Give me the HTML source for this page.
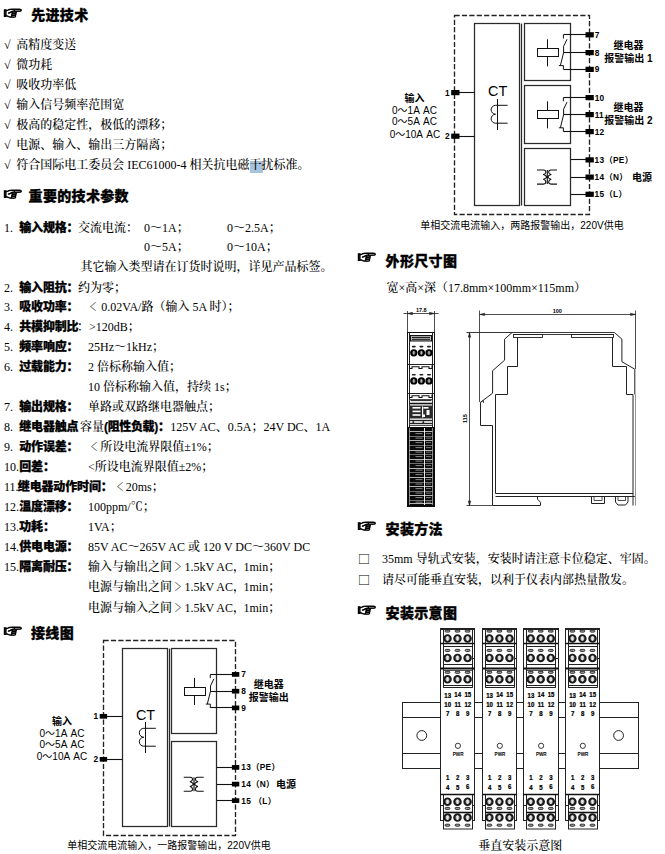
<!DOCTYPE html>
<html lang="zh"><head><meta charset="utf-8"><title>page</title>
<style>
html,body{margin:0;padding:0;background:#fff}
body{width:665px;height:854px;position:relative;overflow:hidden;color:#000}
.t{position:absolute;white-space:nowrap;height:20px;line-height:20px;font-size:12px;font-weight:500;font-family:"Liberation Serif","Noto Serif CJK SC",serif}
.hd{font-family:"Liberation Sans","Noto Sans CJK SC",sans-serif;font-weight:900;font-size:14px;letter-spacing:.33px;-webkit-text-stroke:0.3px #000}
.hand{font-family:"WenQuanYi Zen Hei","Liberation Sans","Noto Sans CJK SC",sans-serif;font-size:21.5px;-webkit-text-stroke:0.8px #000}
.lb,.lbi{font-family:"Liberation Sans","Noto Sans CJK SC",sans-serif;font-weight:900;letter-spacing:-.15px;-webkit-text-stroke:0.25px #000}
.hl{background:#a9c4e6}
.lt{display:inline-block;transform:scaleX(0.62);font-weight:700;margin-left:1.3px;margin-right:2px}
.sq{font-family:"Noto Sans CJK SC",sans-serif;font-weight:500;font-size:12px}
svg{position:absolute;left:0;top:0}
</style></head><body>
<div style="position:absolute;left:250px;top:160.6px;width:12.6px;height:12px;background:#a6c3df"></div>
<div class="t hand" style="left:2.2px;top:3.7px">☞</div>
<div class="t hd" style="left:31.2px;top:5.300000000000001px">先进技术</div>
<div class="t b" style="left:4px;top:35.4px;">√</div>
<div class="t b" style="left:16.2px;top:35.4px;">高精度变送</div>
<div class="t b" style="left:4px;top:55.33px;">√</div>
<div class="t b" style="left:16.2px;top:55.33px;">微功耗</div>
<div class="t b" style="left:4px;top:75.26px;">√</div>
<div class="t b" style="left:16.2px;top:75.26px;">吸收功率低</div>
<div class="t b" style="left:4px;top:95.19px;">√</div>
<div class="t b" style="left:16.2px;top:95.19px;">输入信号频率范围宽</div>
<div class="t b" style="left:4px;top:115.12px;">√</div>
<div class="t b" style="left:16.2px;top:115.12px;">极高的稳定性，极低的漂移；</div>
<div class="t b" style="left:4px;top:135.05px;">√</div>
<div class="t b" style="left:16.2px;top:135.05px;">电源、输入、输出三方隔离；</div>
<div class="t b" style="left:4px;top:154.98px;">√</div>
<div class="t b" style="left:16.2px;top:154.98px;">符合国际电工委员会 IEC61000-4 相关抗电磁干扰标准。</div>
<div class="t hand" style="left:2.2px;top:185px">☞</div>
<div class="t hd" style="left:28.6px;top:186px">重要的技术参数</div>
<div class="t b" style="left:4px;top:217.7px;">1.</div>
<div class="t lb" style="left:19.2px;top:217.7px;">输入规格：</div>
<div class="t b" style="left:78px;top:217.7px;">交流电流：</div>
<div class="t b" style="left:4px;top:277.82px;">2.</div>
<div class="t lb" style="left:19.2px;top:277.82px;">输入阻抗：</div>
<div class="t b" style="left:78px;top:277.82px;">约为零；</div>
<div class="t b" style="left:4px;top:296.86px;">3.</div>
<div class="t lb" style="left:19.2px;top:296.86px;">吸收功率：</div>
<div class="t b" style="left:86px;top:296.86px;"><span class="lt">＜</span>0.02VA/路（输入 5A 时）；</div>
<div class="t b" style="left:4px;top:316.9px;">4.</div>
<div class="t lb" style="left:19.2px;top:316.9px;">共模抑制比</div>
<div class="t b" style="left:77px;top:316.9px;">：>120dB；</div>
<div class="t b" style="left:4px;top:336.94px;">5.</div>
<div class="t lb" style="left:19.2px;top:336.94px;">频率响应：</div>
<div class="t b" style="left:88px;top:336.94px;">25Hz～1kHz；</div>
<div class="t b" style="left:4px;top:356.98px;">6.</div>
<div class="t lb" style="left:19.2px;top:356.98px;">过载能力：</div>
<div class="t b" style="left:88px;top:356.98px;">2 倍标称输入值；</div>
<div class="t b" style="left:4px;top:397.06px;">7.</div>
<div class="t lb" style="left:19.2px;top:397.06px;">输出规格：</div>
<div class="t b" style="left:88px;top:397.06px;">单路或双路继电器触点；</div>
<div class="t b" style="left:4px;top:417.1px;">8.</div>
<div class="t lb" style="left:19.2px;top:417.1px;">继电器触点</div>
<div class="t b" style="left:4px;top:437.14px;">9.</div>
<div class="t lb" style="left:19.2px;top:437.14px;">动作误差：</div>
<div class="t b" style="left:86px;top:437.14px;"><span class="lt" style="margin:0 0.7px 0 1.5px">＜</span>所设电流界限值±1%；</div>
<div class="t b" style="left:4px;top:457.18px;">10.</div>
<div class="t lb" style="left:19.2px;top:457.18px;">回差：</div>
<div class="t b" style="left:88px;top:457.18px;">&lt;所设电流界限值±2%；</div>
<div class="t b" style="left:4px;top:477.22px;">11.</div>
<div class="t lb" style="left:17.8px;top:477.22px;">继电器动作时间：</div>
<div class="t b" style="left:114px;top:477.22px;"><span class="lt" style="margin:0 -0.1px 0 -0.3px">＜</span>20ms；</div>
<div class="t b" style="left:4px;top:497.26px;">12.</div>
<div class="t lb" style="left:19.2px;top:497.26px;">温度漂移：</div>
<div class="t b" style="left:88px;top:497.26px;">100ppm/℃；</div>
<div class="t b" style="left:4px;top:517.3px;">13.</div>
<div class="t lb" style="left:19.2px;top:517.3px;">功耗：</div>
<div class="t b" style="left:88px;top:517.3px;">1VA；</div>
<div class="t b" style="left:4px;top:537.34px;">14.</div>
<div class="t lb" style="left:19.2px;top:537.34px;">供电电源：</div>
<div class="t b" style="left:88px;top:537.34px;">85V AC～265V AC 或 120 V DC～360V DC</div>
<div class="t b" style="left:4px;top:557.38px;">15.</div>
<div class="t lb" style="left:19.2px;top:557.38px;">隔离耐压：</div>
<div class="t b" style="left:88px;top:557.38px;">输入与输出之间<span class="lt" style="margin:0 0.8px 0 -0.3px">＞</span>1.5kV AC<span style="margin-right:-1.5px">，</span>1min；</div>
<div class="t b" style="left:144px;top:217.7px;">0～1A；</div>
<div class="t b" style="left:227px;top:217.7px;">0～2.5A；</div>
<div class="t b" style="left:144px;top:236.7px;">0～5A；</div>
<div class="t b" style="left:227px;top:236.7px;">0～10A；</div>
<div class="t b" style="left:80.4px;top:256.7px;">其它输入类型请在订货时说明，详见产品标签。</div>
<div class="t b" style="left:88px;top:377.0px;">10 倍标称输入值，持续 1s；</div>
<div class="t b" style="left:80px;top:417.1px;">容量<span class="lbi" style="letter-spacing:-.35px;margin-right:.8px">(阻性负载)：</span>125V AC、0.5A；24V DC、1A</div>
<div class="t b" style="left:88px;top:577.4px;">电源与输出之间<span class="lt" style="margin:0 0.8px 0 -0.3px">＞</span>1.5kV AC<span style="margin-right:-1.5px">，</span>1min；</div>
<div class="t b" style="left:88px;top:597.5px;">电源与输入之间<span class="lt" style="margin:0 0.8px 0 -0.3px">＞</span>1.5kV AC<span style="margin-right:-1.5px">，</span>1min；</div>
<div class="t hand" style="left:2.2px;top:622.3px">☞</div>
<div class="t hd" style="left:31px;top:623.3px">接线图</div>
<div class="t hand" style="left:356.2px;top:247.9px">☞</div>
<div class="t hd" style="left:385.6px;top:250.5px">外形尺寸图</div>
<div class="t b" style="left:386.4px;top:278.0px;">宽×高×深（17.8mm×100mm×115mm）</div>
<div class="t hand" style="left:356.2px;top:517.4px">☞</div>
<div class="t hd" style="left:385.6px;top:519.4px">安装方法</div>
<div class="t sq" style="left:358px;top:549.0px;">□</div>
<div class="t b" style="left:382px;top:549.0px;">35mm 导轨式安装，安装时请注意卡位稳定、牢固。</div>
<div class="t sq" style="left:358px;top:569.7px;">□</div>
<div class="t b" style="left:382px;top:569.7px;">请尽可能垂直安装，以利于仪表内部热量散发。</div>
<div class="t hand" style="left:356.2px;top:601.0px">☞</div>
<div class="t hd" style="left:385.6px;top:602.8px">安装示意图</div>
<div class="t b" style="left:478.3px;top:835.9px;">垂直安装示意图</div>
<svg width="665" height="854" viewBox="0 0 665 854">
<rect x="454.5" y="15.5" width="135.0" height="199.0" stroke="#222" stroke-width="1.35" fill="none" stroke-dasharray="5.2 2.2"/>
<rect x="474.5" y="23.5" width="45.0" height="182.0" stroke="#2a2a2a" stroke-width="1.25" fill="none" />
<line x1="521.5" y1="23.6" x2="521.5" y2="205.6" stroke="#2a2a2a" stroke-width="1.25" />
<rect x="524.5" y="23.5" width="46.0" height="57.0" stroke="#2a2a2a" stroke-width="1.25" fill="none" />
<rect x="524.5" y="85.5" width="46.0" height="58.0" stroke="#2a2a2a" stroke-width="1.25" fill="none" />
<rect x="524.5" y="148.5" width="46.0" height="57.0" stroke="#2a2a2a" stroke-width="1.25" fill="none" />
<line x1="563.4" y1="34.5" x2="589.3" y2="34.5" stroke="#111" stroke-width="1.1" />
<rect x="585.5" y="32.199999999999996" width="8.3" height="5.2" fill="#000"/>
<line x1="563.4" y1="52.5" x2="589.3" y2="52.5" stroke="#111" stroke-width="1.1" />
<rect x="585.5" y="50.0" width="8.3" height="5.2" fill="#000"/>
<line x1="563.4" y1="69.5" x2="589.3" y2="69.5" stroke="#111" stroke-width="1.1" />
<rect x="585.5" y="66.80000000000001" width="8.3" height="5.2" fill="#000"/>
<path d="M563.4,34.8 V38.5 M567.0,39.3 L563.6,46.3 V52.6 L560.4,65.60000000000001 M558.9,65.60000000000001 H563.4 V69.4" stroke="#111" stroke-width="1" fill="none" />
<rect x="537.5" y="48.5" width="21.0" height="8.0" stroke="#111" stroke-width="1" fill="none" />
<line x1="547.5" y1="39.3" x2="547.5" y2="48.4" stroke="#111" stroke-width="1" />
<line x1="547.5" y1="56.7" x2="547.5" y2="66.4" stroke="#111" stroke-width="1" />
<text x="594.8" y="37.8" font-size="8.3" font-weight="bold" text-anchor="start" font-family="Liberation Sans,Noto Sans CJK SC,sans-serif" >7</text>
<text x="594.8" y="55.6" font-size="8.3" font-weight="bold" text-anchor="start" font-family="Liberation Sans,Noto Sans CJK SC,sans-serif" >8</text>
<text x="594.8" y="72.4" font-size="8.3" font-weight="bold" text-anchor="start" font-family="Liberation Sans,Noto Sans CJK SC,sans-serif" >9</text>
<line x1="563.4" y1="97.5" x2="589.3" y2="97.5" stroke="#111" stroke-width="1.1" />
<rect x="585.5" y="95.0" width="8.3" height="5.2" fill="#000"/>
<line x1="563.4" y1="114.5" x2="589.3" y2="114.5" stroke="#111" stroke-width="1.1" />
<rect x="585.5" y="112.0" width="8.3" height="5.2" fill="#000"/>
<line x1="563.4" y1="131.5" x2="589.3" y2="131.5" stroke="#111" stroke-width="1.1" />
<rect x="585.5" y="129.0" width="8.3" height="5.2" fill="#000"/>
<path d="M563.4,97.6 V101.3 M567.0,102.1 L563.6,109.1 V114.6 L560.4,127.8 M558.9,127.8 H563.4 V131.6" stroke="#111" stroke-width="1" fill="none" />
<rect x="537.5" y="110.5" width="21.0" height="8.0" stroke="#111" stroke-width="1" fill="none" />
<line x1="547.5" y1="101.3" x2="547.5" y2="110.39999999999999" stroke="#111" stroke-width="1" />
<line x1="547.5" y1="118.69999999999999" x2="547.5" y2="128.4" stroke="#111" stroke-width="1" />
<text x="594.8" y="100.6" font-size="8.3" font-weight="bold" text-anchor="start" font-family="Liberation Sans,Noto Sans CJK SC,sans-serif" >10</text>
<text x="594.8" y="117.6" font-size="8.3" font-weight="bold" text-anchor="start" font-family="Liberation Sans,Noto Sans CJK SC,sans-serif" >11</text>
<text x="594.8" y="134.6" font-size="8.3" font-weight="bold" text-anchor="start" font-family="Liberation Sans,Noto Sans CJK SC,sans-serif" >12</text>
<line x1="570.6" y1="159.5" x2="589.3" y2="159.5" stroke="#111" stroke-width="1.1" />
<rect x="585.5" y="157.3" width="8.3" height="5.2" fill="#000"/>
<text x="594.6" y="162.9" font-size="8.3" font-weight="bold" text-anchor="start" font-family="Liberation Sans,Noto Sans CJK SC,sans-serif" letter-spacing="0.3">13（PE）</text>
<line x1="570.6" y1="177.5" x2="589.3" y2="177.5" stroke="#111" stroke-width="1.1" />
<rect x="585.5" y="174.5" width="8.3" height="5.2" fill="#000"/>
<text x="594.6" y="180.1" font-size="8.3" font-weight="bold" text-anchor="start" font-family="Liberation Sans,Noto Sans CJK SC,sans-serif" letter-spacing="0.3">14（N）</text>
<line x1="570.6" y1="194.5" x2="589.3" y2="194.5" stroke="#111" stroke-width="1.1" />
<rect x="585.5" y="191.70000000000002" width="8.3" height="5.2" fill="#000"/>
<text x="594.6" y="197.3" font-size="8.3" font-weight="bold" text-anchor="start" font-family="Liberation Sans,Noto Sans CJK SC,sans-serif" letter-spacing="0.3">15（L）</text>
<text x="632" y="180.8" font-size="10" font-weight="bold" text-anchor="start" font-family="Liberation Sans,Noto Sans CJK SC,sans-serif" >电源</text>
<path transform="translate(547.3,177)" d="M-10.3,-7 H-3.8 Q-1.3,-6.8 -1.5,-4.5 Q-1.8,-3 -3.8,-2.4 Q-0.8,-1.4 -0.8,-0.1 Q-0.8,1.2 -3.8,2.2 Q-1.8,2.8 -1.5,4.8 Q-1.3,7 -3.8,7.1 H-10.3 M9.7,-7 H3.7 Q1.2,-6.8 1.4,-4.5 Q1.7,-3 3.7,-2.4 Q0.7,-1.4 0.7,-0.1 Q0.7,1.2 3.7,2.2 Q1.7,2.8 1.4,4.8 Q1.2,7 3.7,7.1 H9.7 M0,-7 V7" stroke="#111" stroke-width="1.1" fill="none" stroke-linejoin="round"/>
<line x1="455" y1="92.5" x2="474.5" y2="92.5" stroke="#111" stroke-width="1.1" />
<rect x="451.2" y="90.0" width="8.3" height="5.2" fill="#000"/>
<text x="449.7" y="95.6" font-size="8.3" font-weight="bold" text-anchor="end" font-family="Liberation Sans,Noto Sans CJK SC,sans-serif" >1</text>
<line x1="455" y1="136.5" x2="474.5" y2="136.5" stroke="#111" stroke-width="1.1" />
<rect x="451.2" y="133.6" width="8.3" height="5.2" fill="#000"/>
<text x="449.7" y="139.2" font-size="8.3" font-weight="bold" text-anchor="end" font-family="Liberation Sans,Noto Sans CJK SC,sans-serif" >2</text>
<text x="497.7" y="96" font-size="14.4" font-weight="normal" text-anchor="middle" font-family="Liberation Sans,Noto Sans CJK SC,sans-serif" >CT</text>
<line x1="497.5" y1="99" x2="497.5" y2="130" stroke="#111" stroke-width="1" />
<path d="M507.6,105.3 H495.6 a4.475000000000001,4.475000000000001 0 0 0 0,8.950000000000003 a4.475000000000001,4.475000000000001 0 0 0 0,8.950000000000003 H507.6" stroke="#111" stroke-width="1" fill="none" />
<text x="414.5" y="102" font-size="10" font-weight="bold" text-anchor="middle" font-family="Liberation Sans,Noto Sans CJK SC,sans-serif" >输入</text>
<text x="414.5" y="113.6" font-size="10" font-weight="normal" text-anchor="middle" font-family="Liberation Sans,Noto Sans CJK SC,sans-serif"  word-spacing="1.5">0～1A AC</text>
<text x="414.5" y="125.2" font-size="10" font-weight="normal" text-anchor="middle" font-family="Liberation Sans,Noto Sans CJK SC,sans-serif"  word-spacing="1.5">0～5A AC</text>
<text x="414.9" y="137.6" font-size="10" font-weight="normal" text-anchor="middle" font-family="Liberation Sans,Noto Sans CJK SC,sans-serif"  word-spacing="1.5">0～10A AC</text>
<text x="628.5" y="49.1" font-size="10" font-weight="bold" text-anchor="middle" font-family="Liberation Sans,Noto Sans CJK SC,sans-serif" >继电器</text>
<text x="628.5" y="62.4" font-size="10" font-weight="bold" text-anchor="middle" font-family="Liberation Sans,Noto Sans CJK SC,sans-serif" >报警输出 1</text>
<text x="628.5" y="111.4" font-size="10" font-weight="bold" text-anchor="middle" font-family="Liberation Sans,Noto Sans CJK SC,sans-serif" >继电器</text>
<text x="628.5" y="124.3" font-size="10" font-weight="bold" text-anchor="middle" font-family="Liberation Sans,Noto Sans CJK SC,sans-serif" >报警输出 2</text>
<text x="522" y="229.3" font-size="10" font-weight="normal" text-anchor="middle" font-family="Liberation Sans,Noto Sans CJK SC,sans-serif" >单相交流电流输入，两路报警输出，220V供电</text>
<rect x="103.5" y="640.5" width="132.0" height="195.0" stroke="#222" stroke-width="1.35" fill="none" stroke-dasharray="5.2 2.2"/>
<rect x="122.5" y="648.5" width="45.0" height="178.0" stroke="#2a2a2a" stroke-width="1.25" fill="none" />
<line x1="169.5" y1="648.6" x2="169.5" y2="826.6" stroke="#2a2a2a" stroke-width="1.25" />
<rect x="171.5" y="648.5" width="45.0" height="85.0" stroke="#2a2a2a" stroke-width="1.25" fill="none" />
<rect x="171.5" y="741.5" width="45.0" height="85.0" stroke="#2a2a2a" stroke-width="1.25" fill="none" />
<line x1="210.3" y1="674.5" x2="235.7" y2="674.5" stroke="#111" stroke-width="1.1" />
<rect x="231.89999999999998" y="672.05" width="7.4" height="4.7" fill="#000"/>
<line x1="210.3" y1="691.5" x2="235.7" y2="691.5" stroke="#111" stroke-width="1.1" />
<rect x="231.89999999999998" y="688.85" width="7.4" height="4.7" fill="#000"/>
<line x1="210.3" y1="707.5" x2="235.7" y2="707.5" stroke="#111" stroke-width="1.1" />
<rect x="231.89999999999998" y="705.55" width="7.4" height="4.7" fill="#000"/>
<path d="M210.3,674.4 V678.1 M213.9,678.9 L210.5,685.9 V691.2 L207.3,704.1 M205.8,704.1 H210.3 V707.9" stroke="#111" stroke-width="1" fill="none" />
<rect x="184.5" y="687.5" width="21.0" height="8.0" stroke="#111" stroke-width="1" fill="none" />
<line x1="194.5" y1="677.9000000000001" x2="194.5" y2="687.0" stroke="#111" stroke-width="1" />
<line x1="194.5" y1="695.3000000000001" x2="194.5" y2="705.0" stroke="#111" stroke-width="1" />
<text x="241.2" y="677.4" font-size="8.3" font-weight="bold" text-anchor="start" font-family="Liberation Sans,Noto Sans CJK SC,sans-serif" >7</text>
<text x="241.2" y="694.2" font-size="8.3" font-weight="bold" text-anchor="start" font-family="Liberation Sans,Noto Sans CJK SC,sans-serif" >8</text>
<text x="241.2" y="710.9" font-size="8.3" font-weight="bold" text-anchor="start" font-family="Liberation Sans,Noto Sans CJK SC,sans-serif" >9</text>
<line x1="216.7" y1="767.5" x2="235.7" y2="767.5" stroke="#111" stroke-width="1.1" />
<rect x="231.89999999999998" y="765.05" width="7.4" height="4.7" fill="#000"/>
<text x="241.3" y="770.4" font-size="8.3" font-weight="bold" text-anchor="start" font-family="Liberation Sans,Noto Sans CJK SC,sans-serif" letter-spacing="0.3">13（PE）</text>
<line x1="216.7" y1="784.5" x2="235.7" y2="784.5" stroke="#111" stroke-width="1.1" />
<rect x="231.89999999999998" y="781.75" width="7.4" height="4.7" fill="#000"/>
<text x="241.3" y="787.1" font-size="8.3" font-weight="bold" text-anchor="start" font-family="Liberation Sans,Noto Sans CJK SC,sans-serif" letter-spacing="0.3">14（N）</text>
<line x1="216.7" y1="800.5" x2="235.7" y2="800.5" stroke="#111" stroke-width="1.1" />
<rect x="231.89999999999998" y="798.25" width="7.4" height="4.7" fill="#000"/>
<text x="241.3" y="803.6" font-size="8.3" font-weight="bold" text-anchor="start" font-family="Liberation Sans,Noto Sans CJK SC,sans-serif" letter-spacing="0.3">15 （L）</text>
<text x="276" y="787.7" font-size="10" font-weight="bold" text-anchor="start" font-family="Liberation Sans,Noto Sans CJK SC,sans-serif" >电源</text>
<path transform="translate(194,784.2)" d="M-10.3,-7 H-3.8 Q-1.3,-6.8 -1.5,-4.5 Q-1.8,-3 -3.8,-2.4 Q-0.8,-1.4 -0.8,-0.1 Q-0.8,1.2 -3.8,2.2 Q-1.8,2.8 -1.5,4.8 Q-1.3,7 -3.8,7.1 H-10.3 M9.7,-7 H3.7 Q1.2,-6.8 1.4,-4.5 Q1.7,-3 3.7,-2.4 Q0.7,-1.4 0.7,-0.1 Q0.7,1.2 3.7,2.2 Q1.7,2.8 1.4,4.8 Q1.2,7 3.7,7.1 H9.7 M0,-7 V7" stroke="#111" stroke-width="1.1" fill="none" stroke-linejoin="round"/>
<line x1="103.5" y1="716.5" x2="122.4" y2="716.5" stroke="#111" stroke-width="1.1" />
<rect x="99.7" y="713.9499999999999" width="7.4" height="4.7" fill="#000"/>
<text x="98" y="719.3" font-size="8.3" font-weight="bold" text-anchor="end" font-family="Liberation Sans,Noto Sans CJK SC,sans-serif" >1</text>
<line x1="103.5" y1="759.5" x2="122.4" y2="759.5" stroke="#111" stroke-width="1.1" />
<rect x="99.7" y="756.9499999999999" width="7.4" height="4.7" fill="#000"/>
<text x="98" y="762.3" font-size="8.3" font-weight="bold" text-anchor="end" font-family="Liberation Sans,Noto Sans CJK SC,sans-serif" >2</text>
<text x="145.5" y="719.8" font-size="14.4" font-weight="normal" text-anchor="middle" font-family="Liberation Sans,Noto Sans CJK SC,sans-serif" >CT</text>
<line x1="145.5" y1="722" x2="145.5" y2="753" stroke="#111" stroke-width="1" />
<path d="M155.8,728.3 H143.8 a4.475000000000023,4.475000000000023 0 0 0 0,8.950000000000045 a4.475000000000023,4.475000000000023 0 0 0 0,8.950000000000045 H155.8" stroke="#111" stroke-width="1" fill="none" />
<text x="62" y="725" font-size="10" font-weight="bold" text-anchor="middle" font-family="Liberation Sans,Noto Sans CJK SC,sans-serif" >输入</text>
<text x="62" y="736.6" font-size="10" font-weight="normal" text-anchor="middle" font-family="Liberation Sans,Noto Sans CJK SC,sans-serif"  word-spacing="1.5">0～1A AC</text>
<text x="62" y="748.2" font-size="10" font-weight="normal" text-anchor="middle" font-family="Liberation Sans,Noto Sans CJK SC,sans-serif"  word-spacing="1.5">0～5A AC</text>
<text x="62" y="760" font-size="10" font-weight="normal" text-anchor="middle" font-family="Liberation Sans,Noto Sans CJK SC,sans-serif"  word-spacing="1.5">0～10A AC</text>
<text x="268.7" y="687.6" font-size="10" font-weight="bold" text-anchor="middle" font-family="Liberation Sans,Noto Sans CJK SC,sans-serif" >继电器</text>
<text x="268.7" y="701" font-size="10" font-weight="bold" text-anchor="middle" font-family="Liberation Sans,Noto Sans CJK SC,sans-serif" >报警输出</text>
<text x="169" y="848.5" font-size="10" font-weight="normal" text-anchor="middle" font-family="Liberation Sans,Noto Sans CJK SC,sans-serif" >单相交流电流输入，一路报警输出，220V供电</text>
<line x1="479.7" y1="314.5" x2="635.5" y2="314.5" stroke="#222" stroke-width="0.8" />
<line x1="479.5" y1="310.5" x2="479.5" y2="402" stroke="#222" stroke-width="0.8" />
<line x1="635.5" y1="310.5" x2="635.5" y2="369" stroke="#222" stroke-width="0.8" />
<path d="M479.7,314.4 l5,-1.2 v2.4 z M635.5,314.4 l-5,-1.2 v2.4 z" stroke="#222" stroke-width="0.5" fill="#222" />
<text x="557.3" y="313" font-size="5.5" font-weight="bold" text-anchor="middle" font-family="Liberation Sans,Noto Sans CJK SC,sans-serif" >100</text>
<line x1="469.5" y1="332.2" x2="469.5" y2="505.9" stroke="#222" stroke-width="0.8" />
<line x1="466.5" y1="332.5" x2="614.4" y2="332.5" stroke="#222" stroke-width="0.9" />
<line x1="466.5" y1="505.5" x2="492.6" y2="505.5" stroke="#222" stroke-width="0.8" />
<path d="M469.5,332.2 l-1.2,5 h2.4 z M469.5,505.9 l-1.2,-5 h2.4 z" stroke="#222" stroke-width="0.5" fill="#222" />
<text x="0" y="0" font-size="5.5" font-weight="bold" text-anchor="middle" font-family="Liberation Sans,Noto Sans CJK SC,sans-serif" transform="translate(467.3,418.6) rotate(-90)">115</text>
<path d="M512.1,332.5 L504.6,339.1 L504.6,360.2 L492.6,370.7 L492.6,393.2 L480.5,402.3 L480.5,425.5 L492.5,425.5 L492.5,505.5 L540.5,505.5 L540.5,502.3 L537.5,499.2 L537.5,496.8" stroke="#222" stroke-width="1" fill="none" />
<path d="M614.4,332.5 L621.9,339.1 L621.9,361.7 L634.8,369.2 L634.8,394.5" stroke="#222" stroke-width="1" fill="none" />
<line x1="635.5" y1="394.5" x2="635.5" y2="505.5" stroke="#777" stroke-width="0.8" />
<line x1="513.6" y1="334.5" x2="613.8" y2="334.5" stroke="#222" stroke-width="0.9" />
<rect x="513.5" y="334.5" width="29" height="3" stroke="#222" stroke-width="0.9" fill="none" />
<rect x="571.5" y="334.5" width="42" height="3" stroke="#222" stroke-width="0.9" fill="none" />
<path d="M517.5,337.5 L517.5,366.5 L507.5,366.5 L507.5,394.5 L495.5,394.5 L495.5,493.5 L633,493.5" stroke="#222" stroke-width="1" fill="none" />
<path d="M612.5,337.5 L612.5,366.5 L626.5,366.5 L626.5,394.5 L633,394.5 L633,505.5" stroke="#222" stroke-width="1" fill="none" />
<line x1="495.5" y1="496.5" x2="634.8" y2="496.5" stroke="#222" stroke-width="1" />
<path d="M480.5,402.3 L483.5,400.5 L483.5,403" stroke="#222" stroke-width="0.8" fill="none" />
<path d="M591.5,496.8 L591.5,503.5 L604.5,503.5 L604.5,496.8" stroke="#222" stroke-width="1" fill="none" />
<path d="M594,496.8 L594,500.5 L602,500.5 L602,496.8" stroke="#222" stroke-width="0.8" fill="none" />
<path d="M615.5,496.8 L615.5,502 L618,505 L625.5,505 L628,502 L628,496.8" stroke="#222" stroke-width="1" fill="none" />
<path d="M618,496.8 L618,500.5 L625.5,500.5 L625.5,496.8" stroke="#222" stroke-width="0.8" fill="none" />
<line x1="403.5" y1="313.5" x2="438.5" y2="313.5" stroke="#222" stroke-width="0.8" />
<line x1="407.5" y1="311" x2="407.5" y2="332" stroke="#222" stroke-width="0.8" />
<line x1="434.5" y1="311" x2="434.5" y2="332" stroke="#222" stroke-width="0.8" />
<path d="M407.5,313.5 l5,-1.2 v2.4 z M434.5,313.5 l-5,-1.2 v2.4 z" stroke="#222" stroke-width="0.5" fill="#222" />
<text x="421.3" y="311.6" font-size="5.5" font-weight="bold" text-anchor="middle" font-family="Liberation Sans,Noto Sans CJK SC,sans-serif" >17.8</text>
<rect x="407.5" y="332.5" width="27.0" height="174" stroke="#111" stroke-width="1" fill="none" />
<line x1="409.5" y1="332.5" x2="409.5" y2="506.5" stroke="#222" stroke-width="1" />
<line x1="432.5" y1="332.5" x2="432.5" y2="506.5" stroke="#222" stroke-width="1" />
<rect x="410.5" y="335.5" width="21" height="5.5" stroke="#111" stroke-width="1" fill="#bbb" />
<line x1="412" y1="337.5" x2="430" y2="337.5" stroke="#222" stroke-width="1.3" />
<line x1="412" y1="339.5" x2="430" y2="339.5" stroke="#333" stroke-width="1.2" />
<rect x="411.8" y="345.8" width="4" height="1.6" rx="0.8" fill="#222"/>
<circle cx="413.8" cy="352.8" r="2.7" fill="#555" stroke="#000" stroke-width="1.9"/>
<rect x="413.1" y="351.1" width="1.4" height="3.4" fill="#bbb"/>
<rect x="419.4" y="345.8" width="4" height="1.6" rx="0.8" fill="#222"/>
<circle cx="421.4" cy="352.8" r="2.7" fill="#555" stroke="#000" stroke-width="1.9"/>
<rect x="420.7" y="351.1" width="1.4" height="3.4" fill="#bbb"/>
<rect x="427" y="345.8" width="4" height="1.6" rx="0.8" fill="#222"/>
<circle cx="429" cy="352.8" r="2.7" fill="#555" stroke="#000" stroke-width="1.9"/>
<rect x="428.3" y="351.1" width="1.4" height="3.4" fill="#bbb"/>
<line x1="407.5" y1="364.5" x2="434.5" y2="364.5" stroke="#222" stroke-width="1" />
<path d="M409.5,365.5 V368.5 H412.0 V366.7 H419.0 V368.5 H422.0 V366.7 H429.0 V368.5 H432.0 V365.5" stroke="#111" stroke-width="1.1" fill="none" />
<rect x="411.8" y="373.90000000000003" width="4" height="1.6" rx="0.8" fill="#222"/>
<circle cx="413.8" cy="380.90000000000003" r="2.7" fill="#555" stroke="#000" stroke-width="1.9"/>
<rect x="413.1" y="379.20000000000005" width="1.4" height="3.4" fill="#bbb"/>
<rect x="419.4" y="373.90000000000003" width="4" height="1.6" rx="0.8" fill="#222"/>
<circle cx="421.4" cy="380.90000000000003" r="2.7" fill="#555" stroke="#000" stroke-width="1.9"/>
<rect x="420.7" y="379.20000000000005" width="1.4" height="3.4" fill="#bbb"/>
<rect x="427" y="373.90000000000003" width="4" height="1.6" rx="0.8" fill="#222"/>
<circle cx="429" cy="380.90000000000003" r="2.7" fill="#555" stroke="#000" stroke-width="1.9"/>
<rect x="428.3" y="379.20000000000005" width="1.4" height="3.4" fill="#bbb"/>
<line x1="407.5" y1="393.5" x2="434.5" y2="393.5" stroke="#222" stroke-width="1" />
<path d="M409.5,394.5 V397.5 H412.0 V395.7 H419.0 V397.5 H422.0 V395.7 H429.0 V397.5 H432.0 V394.5" stroke="#111" stroke-width="1.1" fill="none" />
<rect x="409.5" y="399.5" width="23.0" height="26" fill="#fff" stroke="#222" stroke-width="0.8"/>
<line x1="410.5" y1="400.5" x2="431.5" y2="400.5" stroke="#333" stroke-width="1.2" />
<line x1="409.5" y1="403.5" x2="432.5" y2="403.5" stroke="#111" stroke-width="1.6" />
<rect x="410.0" y="405.5" width="22.0" height="13" fill="#2a2a2a"/>
<rect x="412.5" y="407" width="8" height="1.6" fill="#fff"/>
<rect x="412.5" y="410.6" width="8" height="1.6" fill="#fff"/>
<rect x="412.5" y="414.2" width="8" height="1.6" fill="#fff"/>
<rect x="423.5" y="407" width="5" height="1.6" fill="#fff"/>
<rect x="426.5" y="410" width="3" height="5" fill="#fff"/>
<rect x="423.0" y="414.5" width="2" height="2.5" fill="#fff"/>
<rect x="422.0" y="406.5" width="1.2" height="11" fill="#fff"/>
<line x1="409.5" y1="420.5" x2="432.5" y2="420.5" stroke="#222" stroke-width="1.4" />
<line x1="409.5" y1="423.5" x2="432.5" y2="423.5" stroke="#222" stroke-width="1.4" />
<rect x="412.5" y="421.3" width="1.6" height="1.6" fill="#111"/>
<rect x="422.5" y="421.3" width="1.6" height="1.6" fill="#111"/>
<rect x="407.5" y="427" width="27.0" height="79.5" fill="#0a0a0a"/>
<line x1="409.5" y1="431.5" x2="432.5" y2="431.5" stroke="#fff" stroke-width="0.7" />
<line x1="409.5" y1="436.5" x2="432.5" y2="436.5" stroke="#999" stroke-width="0.7" />
<line x1="409.5" y1="440.5" x2="432.5" y2="440.5" stroke="#fff" stroke-width="0.7" />
<line x1="409.5" y1="445.5" x2="432.5" y2="445.5" stroke="#999" stroke-width="0.7" />
<line x1="409.5" y1="450.5" x2="432.5" y2="450.5" stroke="#fff" stroke-width="0.7" />
<line x1="409.5" y1="454.5" x2="432.5" y2="454.5" stroke="#999" stroke-width="0.7" />
<line x1="409.5" y1="459.5" x2="432.5" y2="459.5" stroke="#fff" stroke-width="0.7" />
<line x1="409.5" y1="463.5" x2="432.5" y2="463.5" stroke="#999" stroke-width="0.7" />
<line x1="409.5" y1="468.5" x2="432.5" y2="468.5" stroke="#fff" stroke-width="0.7" />
<line x1="409.5" y1="472.5" x2="432.5" y2="472.5" stroke="#999" stroke-width="0.7" />
<line x1="409.5" y1="477.5" x2="432.5" y2="477.5" stroke="#fff" stroke-width="0.7" />
<line x1="409.5" y1="482.5" x2="432.5" y2="482.5" stroke="#999" stroke-width="0.7" />
<line x1="409.5" y1="486.5" x2="432.5" y2="486.5" stroke="#fff" stroke-width="0.7" />
<line x1="409.5" y1="491.5" x2="432.5" y2="491.5" stroke="#999" stroke-width="0.7" />
<line x1="409.5" y1="495.5" x2="432.5" y2="495.5" stroke="#fff" stroke-width="0.7" />
<line x1="409.5" y1="500.5" x2="432.5" y2="500.5" stroke="#999" stroke-width="0.7" />
<line x1="409.5" y1="503.5" x2="432.5" y2="503.5" stroke="#fff" stroke-width="0.7" />
<line x1="424.5" y1="428" x2="424.5" y2="505" stroke="#fff" stroke-width="0.9" />
<line x1="409.5" y1="428" x2="409.5" y2="505" stroke="#ddd" stroke-width="0.6" />
<line x1="432.5" y1="428" x2="432.5" y2="505" stroke="#ddd" stroke-width="0.6" />
<rect x="415.5" y="433.1" width="7" height="1" fill="#888"/>
<rect x="426.0" y="433.1" width="5" height="1" fill="#777"/>
<rect x="415.5" y="437.6" width="7" height="1" fill="#888"/>
<rect x="426.0" y="437.6" width="5" height="1" fill="#777"/>
<rect x="415.5" y="442.1" width="7" height="1" fill="#888"/>
<rect x="426.0" y="442.1" width="5" height="1" fill="#777"/>
<rect x="415.5" y="447.1" width="7" height="1" fill="#888"/>
<rect x="426.0" y="447.1" width="5" height="1" fill="#777"/>
<rect x="415.5" y="451.6" width="7" height="1" fill="#888"/>
<rect x="426.0" y="451.6" width="5" height="1" fill="#777"/>
<rect x="415.5" y="456.1" width="7" height="1" fill="#888"/>
<rect x="426.0" y="456.1" width="5" height="1" fill="#777"/>
<rect x="415.5" y="460.6" width="7" height="1" fill="#888"/>
<rect x="426.0" y="460.6" width="5" height="1" fill="#777"/>
<rect x="415.5" y="465.1" width="7" height="1" fill="#888"/>
<rect x="426.0" y="465.1" width="5" height="1" fill="#777"/>
<rect x="415.5" y="469.6" width="7" height="1" fill="#888"/>
<rect x="426.0" y="469.6" width="5" height="1" fill="#777"/>
<rect x="415.5" y="474.1" width="7" height="1" fill="#888"/>
<rect x="426.0" y="474.1" width="5" height="1" fill="#777"/>
<rect x="415.5" y="479.1" width="7" height="1" fill="#888"/>
<rect x="426.0" y="479.1" width="5" height="1" fill="#777"/>
<rect x="415.5" y="483.6" width="7" height="1" fill="#888"/>
<rect x="426.0" y="483.6" width="5" height="1" fill="#777"/>
<rect x="415.5" y="488.1" width="7" height="1" fill="#888"/>
<rect x="426.0" y="488.1" width="5" height="1" fill="#777"/>
<rect x="415.5" y="492.6" width="7" height="1" fill="#888"/>
<rect x="426.0" y="492.6" width="5" height="1" fill="#777"/>
<rect x="415.5" y="497.1" width="7" height="1" fill="#888"/>
<rect x="426.0" y="497.1" width="5" height="1" fill="#777"/>
<rect x="415.5" y="501.6" width="7" height="1" fill="#888"/>
<rect x="426.0" y="501.6" width="5" height="1" fill="#777"/>
<rect x="402.5" y="702.5" width="236.0" height="66.0" stroke="#222" stroke-width="1" fill="#fff" />
<line x1="402.8" y1="717.5" x2="638.2" y2="717.5" stroke="#222" stroke-width="1" />
<line x1="402.8" y1="753.5" x2="638.2" y2="753.5" stroke="#222" stroke-width="1" />
<circle cx="421.8" cy="735.5" r="4.9" fill="#fff" stroke="#222" stroke-width="1"/>
<circle cx="618.6" cy="735.5" r="4.9" fill="#fff" stroke="#222" stroke-width="1"/>
<rect x="440.5" y="628.5" width="34.0" height="192.0" stroke="#222" stroke-width="1" fill="#fff" />
<line x1="443.5" y1="628.2" x2="443.5" y2="687.6" stroke="#222" stroke-width="1" />
<line x1="472.5" y1="628.2" x2="472.5" y2="687.6" stroke="#222" stroke-width="1" />
<line x1="440.4" y1="629.5" x2="474.9" y2="629.5" stroke="#222" stroke-width="1.2" />
<line x1="440.4" y1="643.5" x2="474.9" y2="643.5" stroke="#111" stroke-width="1.6" />
<line x1="443.29999999999995" y1="646.5" x2="472.59999999999997" y2="646.5" stroke="#222" stroke-width="1" />
<line x1="443.29999999999995" y1="664.5" x2="472.59999999999997" y2="664.5" stroke="#222" stroke-width="1" />
<line x1="440.4" y1="668.5" x2="474.9" y2="668.5" stroke="#111" stroke-width="1.8" />
<line x1="443.29999999999995" y1="670.5" x2="472.59999999999997" y2="670.5" stroke="#222" stroke-width="0.8" />
<line x1="443.29999999999995" y1="685.5" x2="472.59999999999997" y2="685.5" stroke="#222" stroke-width="1" />
<line x1="443.29999999999995" y1="687.5" x2="472.59999999999997" y2="687.5" stroke="#222" stroke-width="1" />
<line x1="472.59999999999997" y1="658.5" x2="474.9" y2="658.5" stroke="#222" stroke-width="1" />
<rect x="445.1" y="630.1" width="4.8" height="2" rx="1" fill="#aaa" stroke="#1a1a1a" stroke-width="0.9"/>
<circle cx="447.5" cy="638.5" r="3.2" fill="#9a9a9a" stroke="#1a1a1a" stroke-width="2.1"/>
<rect x="446.4" y="636.2" width="2.2" height="4.6" rx="1" fill="#e8e8e8"/>
<rect x="445.1" y="649.4" width="4.8" height="2" rx="1" fill="#aaa" stroke="#1a1a1a" stroke-width="0.9"/>
<circle cx="447.5" cy="657.9" r="3.2" fill="#9a9a9a" stroke="#1a1a1a" stroke-width="2.1"/>
<rect x="446.4" y="655.6" width="2.2" height="4.6" rx="1" fill="#e8e8e8"/>
<rect x="445.1" y="671.3" width="4.8" height="2" rx="1" fill="#aaa" stroke="#1a1a1a" stroke-width="0.9"/>
<circle cx="447.5" cy="679.3" r="3.2" fill="#9a9a9a" stroke="#1a1a1a" stroke-width="2.1"/>
<rect x="446.4" y="677.0" width="2.2" height="4.6" rx="1" fill="#e8e8e8"/>
<rect x="455.1" y="630.1" width="4.8" height="2" rx="1" fill="#aaa" stroke="#1a1a1a" stroke-width="0.9"/>
<circle cx="457.5" cy="638.5" r="3.2" fill="#9a9a9a" stroke="#1a1a1a" stroke-width="2.1"/>
<rect x="456.4" y="636.2" width="2.2" height="4.6" rx="1" fill="#e8e8e8"/>
<rect x="455.1" y="649.4" width="4.8" height="2" rx="1" fill="#aaa" stroke="#1a1a1a" stroke-width="0.9"/>
<circle cx="457.5" cy="657.9" r="3.2" fill="#9a9a9a" stroke="#1a1a1a" stroke-width="2.1"/>
<rect x="456.4" y="655.6" width="2.2" height="4.6" rx="1" fill="#e8e8e8"/>
<rect x="455.1" y="671.3" width="4.8" height="2" rx="1" fill="#aaa" stroke="#1a1a1a" stroke-width="0.9"/>
<circle cx="457.5" cy="679.3" r="3.2" fill="#9a9a9a" stroke="#1a1a1a" stroke-width="2.1"/>
<rect x="456.4" y="677.0" width="2.2" height="4.6" rx="1" fill="#e8e8e8"/>
<rect x="465.2" y="630.1" width="4.8" height="2" rx="1" fill="#aaa" stroke="#1a1a1a" stroke-width="0.9"/>
<circle cx="467.59999999999997" cy="638.5" r="3.2" fill="#9a9a9a" stroke="#1a1a1a" stroke-width="2.1"/>
<rect x="466.49999999999994" y="636.2" width="2.2" height="4.6" rx="1" fill="#e8e8e8"/>
<rect x="465.2" y="649.4" width="4.8" height="2" rx="1" fill="#aaa" stroke="#1a1a1a" stroke-width="0.9"/>
<circle cx="467.59999999999997" cy="657.9" r="3.2" fill="#9a9a9a" stroke="#1a1a1a" stroke-width="2.1"/>
<rect x="466.49999999999994" y="655.6" width="2.2" height="4.6" rx="1" fill="#e8e8e8"/>
<rect x="465.2" y="671.3" width="4.8" height="2" rx="1" fill="#aaa" stroke="#1a1a1a" stroke-width="0.9"/>
<circle cx="467.59999999999997" cy="679.3" r="3.2" fill="#9a9a9a" stroke="#1a1a1a" stroke-width="2.1"/>
<rect x="466.49999999999994" y="677.0" width="2.2" height="4.6" rx="1" fill="#e8e8e8"/>
<rect x="440.5" y="794.5" width="34.0" height="26" fill="#fff" stroke="#222" stroke-width="1"/>
<rect x="443.5" y="794.5" width="29.0" height="34.5" fill="#fff" stroke="#222" stroke-width="1"/>
<line x1="440.4" y1="794.5" x2="474.9" y2="794.5" stroke="#111" stroke-width="1.6" />
<line x1="443.29999999999995" y1="812.5" x2="472.59999999999997" y2="812.5" stroke="#111" stroke-width="1.6" />
<line x1="440.4" y1="805.5" x2="443.29999999999995" y2="805.5" stroke="#222" stroke-width="1" />
<line x1="472.59999999999997" y1="805.5" x2="474.9" y2="805.5" stroke="#222" stroke-width="1" />
<circle cx="447.5" cy="801.7" r="3.2" fill="#9a9a9a" stroke="#1a1a1a" stroke-width="2.1"/>
<rect x="446.4" y="799.4000000000001" width="2.2" height="4.6" rx="1" fill="#e8e8e8"/>
<rect x="445.1" y="807.4" width="4.8" height="2" rx="1" fill="#aaa" stroke="#1a1a1a" stroke-width="0.9"/>
<circle cx="447.5" cy="817.6" r="3.2" fill="#9a9a9a" stroke="#1a1a1a" stroke-width="2.1"/>
<rect x="446.4" y="815.3000000000001" width="2.2" height="4.6" rx="1" fill="#e8e8e8"/>
<rect x="445.1" y="824.2" width="4.8" height="2" rx="1" fill="#aaa" stroke="#1a1a1a" stroke-width="0.9"/>
<circle cx="457.5" cy="801.7" r="3.2" fill="#9a9a9a" stroke="#1a1a1a" stroke-width="2.1"/>
<rect x="456.4" y="799.4000000000001" width="2.2" height="4.6" rx="1" fill="#e8e8e8"/>
<rect x="455.1" y="807.4" width="4.8" height="2" rx="1" fill="#aaa" stroke="#1a1a1a" stroke-width="0.9"/>
<circle cx="457.5" cy="817.6" r="3.2" fill="#9a9a9a" stroke="#1a1a1a" stroke-width="2.1"/>
<rect x="456.4" y="815.3000000000001" width="2.2" height="4.6" rx="1" fill="#e8e8e8"/>
<rect x="455.1" y="824.2" width="4.8" height="2" rx="1" fill="#aaa" stroke="#1a1a1a" stroke-width="0.9"/>
<circle cx="467.59999999999997" cy="801.7" r="3.2" fill="#9a9a9a" stroke="#1a1a1a" stroke-width="2.1"/>
<rect x="466.49999999999994" y="799.4000000000001" width="2.2" height="4.6" rx="1" fill="#e8e8e8"/>
<rect x="465.2" y="807.4" width="4.8" height="2" rx="1" fill="#aaa" stroke="#1a1a1a" stroke-width="0.9"/>
<circle cx="467.59999999999997" cy="817.6" r="3.2" fill="#9a9a9a" stroke="#1a1a1a" stroke-width="2.1"/>
<rect x="466.49999999999994" y="815.3000000000001" width="2.2" height="4.6" rx="1" fill="#e8e8e8"/>
<rect x="465.2" y="824.2" width="4.8" height="2" rx="1" fill="#aaa" stroke="#1a1a1a" stroke-width="0.9"/>
<text transform="translate(447.7,698.0) scale(0.88,1)" font-size="6.9" font-weight="bold" stroke="#000" stroke-width="0.25" text-anchor="middle" font-family="Liberation Sans,Noto Sans CJK SC,sans-serif">13</text>
<text transform="translate(457.7,697.4) scale(0.88,1)" font-size="6.9" font-weight="bold" stroke="#000" stroke-width="0.25" text-anchor="middle" font-family="Liberation Sans,Noto Sans CJK SC,sans-serif">14</text>
<text transform="translate(467.79999999999995,697.4) scale(0.88,1)" font-size="6.9" font-weight="bold" stroke="#000" stroke-width="0.25" text-anchor="middle" font-family="Liberation Sans,Noto Sans CJK SC,sans-serif">15</text>
<text transform="translate(447.7,707.2) scale(0.88,1)" font-size="6.9" font-weight="bold" stroke="#000" stroke-width="0.25" text-anchor="middle" font-family="Liberation Sans,Noto Sans CJK SC,sans-serif">10</text>
<text transform="translate(457.7,707.2) scale(0.88,1)" font-size="6.9" font-weight="bold" stroke="#000" stroke-width="0.25" text-anchor="middle" font-family="Liberation Sans,Noto Sans CJK SC,sans-serif">11</text>
<text transform="translate(467.79999999999995,707.2) scale(0.88,1)" font-size="6.9" font-weight="bold" stroke="#000" stroke-width="0.25" text-anchor="middle" font-family="Liberation Sans,Noto Sans CJK SC,sans-serif">12</text>
<text transform="translate(447.7,716.3) scale(0.88,1)" font-size="6.9" font-weight="bold" stroke="#000" stroke-width="0.25" text-anchor="middle" font-family="Liberation Sans,Noto Sans CJK SC,sans-serif">7</text>
<text transform="translate(457.7,716.3) scale(0.88,1)" font-size="6.9" font-weight="bold" stroke="#000" stroke-width="0.25" text-anchor="middle" font-family="Liberation Sans,Noto Sans CJK SC,sans-serif">8</text>
<text transform="translate(467.79999999999995,716.3) scale(0.88,1)" font-size="6.9" font-weight="bold" stroke="#000" stroke-width="0.25" text-anchor="middle" font-family="Liberation Sans,Noto Sans CJK SC,sans-serif">9</text>
<text transform="translate(447.7,780.1) scale(0.88,1)" font-size="6.9" font-weight="bold" stroke="#000" stroke-width="0.25" text-anchor="middle" font-family="Liberation Sans,Noto Sans CJK SC,sans-serif">1</text>
<text transform="translate(457.7,780.1) scale(0.88,1)" font-size="6.9" font-weight="bold" stroke="#000" stroke-width="0.25" text-anchor="middle" font-family="Liberation Sans,Noto Sans CJK SC,sans-serif">2</text>
<text transform="translate(467.79999999999995,780.1) scale(0.88,1)" font-size="6.9" font-weight="bold" stroke="#000" stroke-width="0.25" text-anchor="middle" font-family="Liberation Sans,Noto Sans CJK SC,sans-serif">3</text>
<text transform="translate(447.7,789.9) scale(0.88,1)" font-size="6.9" font-weight="bold" stroke="#000" stroke-width="0.25" text-anchor="middle" font-family="Liberation Sans,Noto Sans CJK SC,sans-serif">4</text>
<text transform="translate(457.7,789.9) scale(0.88,1)" font-size="6.9" font-weight="bold" stroke="#000" stroke-width="0.25" text-anchor="middle" font-family="Liberation Sans,Noto Sans CJK SC,sans-serif">5</text>
<text transform="translate(467.79999999999995,788.9) scale(0.88,1)" font-size="6.9" font-weight="bold" stroke="#000" stroke-width="0.25" text-anchor="middle" font-family="Liberation Sans,Noto Sans CJK SC,sans-serif">6</text>
<circle cx="457.9" cy="745.8" r="2.6" fill="#fff" stroke="#222" stroke-width="0.9"/>
<text transform="translate(458.09999999999997,756.3) scale(0.8,1)" font-size="5.8" font-weight="bold" text-anchor="middle" font-family="Liberation Sans,Noto Sans CJK SC,sans-serif">PWR</text>
<rect x="482.5" y="628.5" width="34.0" height="192.0" stroke="#222" stroke-width="1" fill="#fff" />
<line x1="485.5" y1="628.2" x2="485.5" y2="687.6" stroke="#222" stroke-width="1" />
<line x1="514.5" y1="628.2" x2="514.5" y2="687.6" stroke="#222" stroke-width="1" />
<line x1="482.3" y1="629.5" x2="516.8" y2="629.5" stroke="#222" stroke-width="1.2" />
<line x1="482.3" y1="643.5" x2="516.8" y2="643.5" stroke="#111" stroke-width="1.6" />
<line x1="485.2" y1="646.5" x2="514.5" y2="646.5" stroke="#222" stroke-width="1" />
<line x1="485.2" y1="664.5" x2="514.5" y2="664.5" stroke="#222" stroke-width="1" />
<line x1="482.3" y1="668.5" x2="516.8" y2="668.5" stroke="#111" stroke-width="1.8" />
<line x1="485.2" y1="670.5" x2="514.5" y2="670.5" stroke="#222" stroke-width="0.8" />
<line x1="485.2" y1="685.5" x2="514.5" y2="685.5" stroke="#222" stroke-width="1" />
<line x1="485.2" y1="687.5" x2="514.5" y2="687.5" stroke="#222" stroke-width="1" />
<line x1="514.5" y1="658.5" x2="516.8" y2="658.5" stroke="#222" stroke-width="1" />
<rect x="487.00000000000006" y="630.1" width="4.8" height="2" rx="1" fill="#aaa" stroke="#1a1a1a" stroke-width="0.9"/>
<circle cx="489.40000000000003" cy="638.5" r="3.2" fill="#9a9a9a" stroke="#1a1a1a" stroke-width="2.1"/>
<rect x="488.3" y="636.2" width="2.2" height="4.6" rx="1" fill="#e8e8e8"/>
<rect x="487.00000000000006" y="649.4" width="4.8" height="2" rx="1" fill="#aaa" stroke="#1a1a1a" stroke-width="0.9"/>
<circle cx="489.40000000000003" cy="657.9" r="3.2" fill="#9a9a9a" stroke="#1a1a1a" stroke-width="2.1"/>
<rect x="488.3" y="655.6" width="2.2" height="4.6" rx="1" fill="#e8e8e8"/>
<rect x="487.00000000000006" y="671.3" width="4.8" height="2" rx="1" fill="#aaa" stroke="#1a1a1a" stroke-width="0.9"/>
<circle cx="489.40000000000003" cy="679.3" r="3.2" fill="#9a9a9a" stroke="#1a1a1a" stroke-width="2.1"/>
<rect x="488.3" y="677.0" width="2.2" height="4.6" rx="1" fill="#e8e8e8"/>
<rect x="497.00000000000006" y="630.1" width="4.8" height="2" rx="1" fill="#aaa" stroke="#1a1a1a" stroke-width="0.9"/>
<circle cx="499.40000000000003" cy="638.5" r="3.2" fill="#9a9a9a" stroke="#1a1a1a" stroke-width="2.1"/>
<rect x="498.3" y="636.2" width="2.2" height="4.6" rx="1" fill="#e8e8e8"/>
<rect x="497.00000000000006" y="649.4" width="4.8" height="2" rx="1" fill="#aaa" stroke="#1a1a1a" stroke-width="0.9"/>
<circle cx="499.40000000000003" cy="657.9" r="3.2" fill="#9a9a9a" stroke="#1a1a1a" stroke-width="2.1"/>
<rect x="498.3" y="655.6" width="2.2" height="4.6" rx="1" fill="#e8e8e8"/>
<rect x="497.00000000000006" y="671.3" width="4.8" height="2" rx="1" fill="#aaa" stroke="#1a1a1a" stroke-width="0.9"/>
<circle cx="499.40000000000003" cy="679.3" r="3.2" fill="#9a9a9a" stroke="#1a1a1a" stroke-width="2.1"/>
<rect x="498.3" y="677.0" width="2.2" height="4.6" rx="1" fill="#e8e8e8"/>
<rect x="507.1" y="630.1" width="4.8" height="2" rx="1" fill="#aaa" stroke="#1a1a1a" stroke-width="0.9"/>
<circle cx="509.5" cy="638.5" r="3.2" fill="#9a9a9a" stroke="#1a1a1a" stroke-width="2.1"/>
<rect x="508.4" y="636.2" width="2.2" height="4.6" rx="1" fill="#e8e8e8"/>
<rect x="507.1" y="649.4" width="4.8" height="2" rx="1" fill="#aaa" stroke="#1a1a1a" stroke-width="0.9"/>
<circle cx="509.5" cy="657.9" r="3.2" fill="#9a9a9a" stroke="#1a1a1a" stroke-width="2.1"/>
<rect x="508.4" y="655.6" width="2.2" height="4.6" rx="1" fill="#e8e8e8"/>
<rect x="507.1" y="671.3" width="4.8" height="2" rx="1" fill="#aaa" stroke="#1a1a1a" stroke-width="0.9"/>
<circle cx="509.5" cy="679.3" r="3.2" fill="#9a9a9a" stroke="#1a1a1a" stroke-width="2.1"/>
<rect x="508.4" y="677.0" width="2.2" height="4.6" rx="1" fill="#e8e8e8"/>
<rect x="482.5" y="794.5" width="34.0" height="26" fill="#fff" stroke="#222" stroke-width="1"/>
<rect x="485.5" y="794.5" width="29.0" height="34.5" fill="#fff" stroke="#222" stroke-width="1"/>
<line x1="482.3" y1="794.5" x2="516.8" y2="794.5" stroke="#111" stroke-width="1.6" />
<line x1="485.2" y1="812.5" x2="514.5" y2="812.5" stroke="#111" stroke-width="1.6" />
<line x1="482.3" y1="805.5" x2="485.2" y2="805.5" stroke="#222" stroke-width="1" />
<line x1="514.5" y1="805.5" x2="516.8" y2="805.5" stroke="#222" stroke-width="1" />
<circle cx="489.40000000000003" cy="801.7" r="3.2" fill="#9a9a9a" stroke="#1a1a1a" stroke-width="2.1"/>
<rect x="488.3" y="799.4000000000001" width="2.2" height="4.6" rx="1" fill="#e8e8e8"/>
<rect x="487.00000000000006" y="807.4" width="4.8" height="2" rx="1" fill="#aaa" stroke="#1a1a1a" stroke-width="0.9"/>
<circle cx="489.40000000000003" cy="817.6" r="3.2" fill="#9a9a9a" stroke="#1a1a1a" stroke-width="2.1"/>
<rect x="488.3" y="815.3000000000001" width="2.2" height="4.6" rx="1" fill="#e8e8e8"/>
<rect x="487.00000000000006" y="824.2" width="4.8" height="2" rx="1" fill="#aaa" stroke="#1a1a1a" stroke-width="0.9"/>
<circle cx="499.40000000000003" cy="801.7" r="3.2" fill="#9a9a9a" stroke="#1a1a1a" stroke-width="2.1"/>
<rect x="498.3" y="799.4000000000001" width="2.2" height="4.6" rx="1" fill="#e8e8e8"/>
<rect x="497.00000000000006" y="807.4" width="4.8" height="2" rx="1" fill="#aaa" stroke="#1a1a1a" stroke-width="0.9"/>
<circle cx="499.40000000000003" cy="817.6" r="3.2" fill="#9a9a9a" stroke="#1a1a1a" stroke-width="2.1"/>
<rect x="498.3" y="815.3000000000001" width="2.2" height="4.6" rx="1" fill="#e8e8e8"/>
<rect x="497.00000000000006" y="824.2" width="4.8" height="2" rx="1" fill="#aaa" stroke="#1a1a1a" stroke-width="0.9"/>
<circle cx="509.5" cy="801.7" r="3.2" fill="#9a9a9a" stroke="#1a1a1a" stroke-width="2.1"/>
<rect x="508.4" y="799.4000000000001" width="2.2" height="4.6" rx="1" fill="#e8e8e8"/>
<rect x="507.1" y="807.4" width="4.8" height="2" rx="1" fill="#aaa" stroke="#1a1a1a" stroke-width="0.9"/>
<circle cx="509.5" cy="817.6" r="3.2" fill="#9a9a9a" stroke="#1a1a1a" stroke-width="2.1"/>
<rect x="508.4" y="815.3000000000001" width="2.2" height="4.6" rx="1" fill="#e8e8e8"/>
<rect x="507.1" y="824.2" width="4.8" height="2" rx="1" fill="#aaa" stroke="#1a1a1a" stroke-width="0.9"/>
<text transform="translate(489.6,698.0) scale(0.88,1)" font-size="6.9" font-weight="bold" stroke="#000" stroke-width="0.25" text-anchor="middle" font-family="Liberation Sans,Noto Sans CJK SC,sans-serif">13</text>
<text transform="translate(499.6,697.4) scale(0.88,1)" font-size="6.9" font-weight="bold" stroke="#000" stroke-width="0.25" text-anchor="middle" font-family="Liberation Sans,Noto Sans CJK SC,sans-serif">14</text>
<text transform="translate(509.7,697.4) scale(0.88,1)" font-size="6.9" font-weight="bold" stroke="#000" stroke-width="0.25" text-anchor="middle" font-family="Liberation Sans,Noto Sans CJK SC,sans-serif">15</text>
<text transform="translate(489.6,707.2) scale(0.88,1)" font-size="6.9" font-weight="bold" stroke="#000" stroke-width="0.25" text-anchor="middle" font-family="Liberation Sans,Noto Sans CJK SC,sans-serif">10</text>
<text transform="translate(499.6,707.2) scale(0.88,1)" font-size="6.9" font-weight="bold" stroke="#000" stroke-width="0.25" text-anchor="middle" font-family="Liberation Sans,Noto Sans CJK SC,sans-serif">11</text>
<text transform="translate(509.7,707.2) scale(0.88,1)" font-size="6.9" font-weight="bold" stroke="#000" stroke-width="0.25" text-anchor="middle" font-family="Liberation Sans,Noto Sans CJK SC,sans-serif">12</text>
<text transform="translate(489.6,716.3) scale(0.88,1)" font-size="6.9" font-weight="bold" stroke="#000" stroke-width="0.25" text-anchor="middle" font-family="Liberation Sans,Noto Sans CJK SC,sans-serif">7</text>
<text transform="translate(499.6,716.3) scale(0.88,1)" font-size="6.9" font-weight="bold" stroke="#000" stroke-width="0.25" text-anchor="middle" font-family="Liberation Sans,Noto Sans CJK SC,sans-serif">8</text>
<text transform="translate(509.7,716.3) scale(0.88,1)" font-size="6.9" font-weight="bold" stroke="#000" stroke-width="0.25" text-anchor="middle" font-family="Liberation Sans,Noto Sans CJK SC,sans-serif">9</text>
<text transform="translate(489.6,780.1) scale(0.88,1)" font-size="6.9" font-weight="bold" stroke="#000" stroke-width="0.25" text-anchor="middle" font-family="Liberation Sans,Noto Sans CJK SC,sans-serif">1</text>
<text transform="translate(499.6,780.1) scale(0.88,1)" font-size="6.9" font-weight="bold" stroke="#000" stroke-width="0.25" text-anchor="middle" font-family="Liberation Sans,Noto Sans CJK SC,sans-serif">2</text>
<text transform="translate(509.7,780.1) scale(0.88,1)" font-size="6.9" font-weight="bold" stroke="#000" stroke-width="0.25" text-anchor="middle" font-family="Liberation Sans,Noto Sans CJK SC,sans-serif">3</text>
<text transform="translate(489.6,789.9) scale(0.88,1)" font-size="6.9" font-weight="bold" stroke="#000" stroke-width="0.25" text-anchor="middle" font-family="Liberation Sans,Noto Sans CJK SC,sans-serif">4</text>
<text transform="translate(499.6,789.9) scale(0.88,1)" font-size="6.9" font-weight="bold" stroke="#000" stroke-width="0.25" text-anchor="middle" font-family="Liberation Sans,Noto Sans CJK SC,sans-serif">5</text>
<text transform="translate(509.7,788.9) scale(0.88,1)" font-size="6.9" font-weight="bold" stroke="#000" stroke-width="0.25" text-anchor="middle" font-family="Liberation Sans,Noto Sans CJK SC,sans-serif">6</text>
<circle cx="499.8" cy="745.8" r="2.6" fill="#fff" stroke="#222" stroke-width="0.9"/>
<text transform="translate(500.0,756.3) scale(0.8,1)" font-size="5.8" font-weight="bold" text-anchor="middle" font-family="Liberation Sans,Noto Sans CJK SC,sans-serif">PWR</text>
<rect x="523.5" y="628.5" width="35.0" height="192.0" stroke="#222" stroke-width="1" fill="#fff" />
<line x1="526.5" y1="628.2" x2="526.5" y2="687.6" stroke="#222" stroke-width="1" />
<line x1="555.5" y1="628.2" x2="555.5" y2="687.6" stroke="#222" stroke-width="1" />
<line x1="523.6" y1="629.5" x2="558.1" y2="629.5" stroke="#222" stroke-width="1.2" />
<line x1="523.6" y1="643.5" x2="558.1" y2="643.5" stroke="#111" stroke-width="1.6" />
<line x1="526.5" y1="646.5" x2="555.8000000000001" y2="646.5" stroke="#222" stroke-width="1" />
<line x1="526.5" y1="664.5" x2="555.8000000000001" y2="664.5" stroke="#222" stroke-width="1" />
<line x1="523.6" y1="668.5" x2="558.1" y2="668.5" stroke="#111" stroke-width="1.8" />
<line x1="526.5" y1="670.5" x2="555.8000000000001" y2="670.5" stroke="#222" stroke-width="0.8" />
<line x1="526.5" y1="685.5" x2="555.8000000000001" y2="685.5" stroke="#222" stroke-width="1" />
<line x1="526.5" y1="687.5" x2="555.8000000000001" y2="687.5" stroke="#222" stroke-width="1" />
<line x1="555.8000000000001" y1="658.5" x2="558.1" y2="658.5" stroke="#222" stroke-width="1" />
<rect x="528.3000000000001" y="630.1" width="4.8" height="2" rx="1" fill="#aaa" stroke="#1a1a1a" stroke-width="0.9"/>
<circle cx="530.7" cy="638.5" r="3.2" fill="#9a9a9a" stroke="#1a1a1a" stroke-width="2.1"/>
<rect x="529.6" y="636.2" width="2.2" height="4.6" rx="1" fill="#e8e8e8"/>
<rect x="528.3000000000001" y="649.4" width="4.8" height="2" rx="1" fill="#aaa" stroke="#1a1a1a" stroke-width="0.9"/>
<circle cx="530.7" cy="657.9" r="3.2" fill="#9a9a9a" stroke="#1a1a1a" stroke-width="2.1"/>
<rect x="529.6" y="655.6" width="2.2" height="4.6" rx="1" fill="#e8e8e8"/>
<rect x="528.3000000000001" y="671.3" width="4.8" height="2" rx="1" fill="#aaa" stroke="#1a1a1a" stroke-width="0.9"/>
<circle cx="530.7" cy="679.3" r="3.2" fill="#9a9a9a" stroke="#1a1a1a" stroke-width="2.1"/>
<rect x="529.6" y="677.0" width="2.2" height="4.6" rx="1" fill="#e8e8e8"/>
<rect x="538.3000000000001" y="630.1" width="4.8" height="2" rx="1" fill="#aaa" stroke="#1a1a1a" stroke-width="0.9"/>
<circle cx="540.7" cy="638.5" r="3.2" fill="#9a9a9a" stroke="#1a1a1a" stroke-width="2.1"/>
<rect x="539.6" y="636.2" width="2.2" height="4.6" rx="1" fill="#e8e8e8"/>
<rect x="538.3000000000001" y="649.4" width="4.8" height="2" rx="1" fill="#aaa" stroke="#1a1a1a" stroke-width="0.9"/>
<circle cx="540.7" cy="657.9" r="3.2" fill="#9a9a9a" stroke="#1a1a1a" stroke-width="2.1"/>
<rect x="539.6" y="655.6" width="2.2" height="4.6" rx="1" fill="#e8e8e8"/>
<rect x="538.3000000000001" y="671.3" width="4.8" height="2" rx="1" fill="#aaa" stroke="#1a1a1a" stroke-width="0.9"/>
<circle cx="540.7" cy="679.3" r="3.2" fill="#9a9a9a" stroke="#1a1a1a" stroke-width="2.1"/>
<rect x="539.6" y="677.0" width="2.2" height="4.6" rx="1" fill="#e8e8e8"/>
<rect x="548.4000000000001" y="630.1" width="4.8" height="2" rx="1" fill="#aaa" stroke="#1a1a1a" stroke-width="0.9"/>
<circle cx="550.8000000000001" cy="638.5" r="3.2" fill="#9a9a9a" stroke="#1a1a1a" stroke-width="2.1"/>
<rect x="549.7" y="636.2" width="2.2" height="4.6" rx="1" fill="#e8e8e8"/>
<rect x="548.4000000000001" y="649.4" width="4.8" height="2" rx="1" fill="#aaa" stroke="#1a1a1a" stroke-width="0.9"/>
<circle cx="550.8000000000001" cy="657.9" r="3.2" fill="#9a9a9a" stroke="#1a1a1a" stroke-width="2.1"/>
<rect x="549.7" y="655.6" width="2.2" height="4.6" rx="1" fill="#e8e8e8"/>
<rect x="548.4000000000001" y="671.3" width="4.8" height="2" rx="1" fill="#aaa" stroke="#1a1a1a" stroke-width="0.9"/>
<circle cx="550.8000000000001" cy="679.3" r="3.2" fill="#9a9a9a" stroke="#1a1a1a" stroke-width="2.1"/>
<rect x="549.7" y="677.0" width="2.2" height="4.6" rx="1" fill="#e8e8e8"/>
<rect x="523.5" y="794.5" width="35.0" height="26" fill="#fff" stroke="#222" stroke-width="1"/>
<rect x="526.5" y="794.5" width="29.0" height="34.5" fill="#fff" stroke="#222" stroke-width="1"/>
<line x1="523.6" y1="794.5" x2="558.1" y2="794.5" stroke="#111" stroke-width="1.6" />
<line x1="526.5" y1="812.5" x2="555.8000000000001" y2="812.5" stroke="#111" stroke-width="1.6" />
<line x1="523.6" y1="805.5" x2="526.5" y2="805.5" stroke="#222" stroke-width="1" />
<line x1="555.8000000000001" y1="805.5" x2="558.1" y2="805.5" stroke="#222" stroke-width="1" />
<circle cx="530.7" cy="801.7" r="3.2" fill="#9a9a9a" stroke="#1a1a1a" stroke-width="2.1"/>
<rect x="529.6" y="799.4000000000001" width="2.2" height="4.6" rx="1" fill="#e8e8e8"/>
<rect x="528.3000000000001" y="807.4" width="4.8" height="2" rx="1" fill="#aaa" stroke="#1a1a1a" stroke-width="0.9"/>
<circle cx="530.7" cy="817.6" r="3.2" fill="#9a9a9a" stroke="#1a1a1a" stroke-width="2.1"/>
<rect x="529.6" y="815.3000000000001" width="2.2" height="4.6" rx="1" fill="#e8e8e8"/>
<rect x="528.3000000000001" y="824.2" width="4.8" height="2" rx="1" fill="#aaa" stroke="#1a1a1a" stroke-width="0.9"/>
<circle cx="540.7" cy="801.7" r="3.2" fill="#9a9a9a" stroke="#1a1a1a" stroke-width="2.1"/>
<rect x="539.6" y="799.4000000000001" width="2.2" height="4.6" rx="1" fill="#e8e8e8"/>
<rect x="538.3000000000001" y="807.4" width="4.8" height="2" rx="1" fill="#aaa" stroke="#1a1a1a" stroke-width="0.9"/>
<circle cx="540.7" cy="817.6" r="3.2" fill="#9a9a9a" stroke="#1a1a1a" stroke-width="2.1"/>
<rect x="539.6" y="815.3000000000001" width="2.2" height="4.6" rx="1" fill="#e8e8e8"/>
<rect x="538.3000000000001" y="824.2" width="4.8" height="2" rx="1" fill="#aaa" stroke="#1a1a1a" stroke-width="0.9"/>
<circle cx="550.8000000000001" cy="801.7" r="3.2" fill="#9a9a9a" stroke="#1a1a1a" stroke-width="2.1"/>
<rect x="549.7" y="799.4000000000001" width="2.2" height="4.6" rx="1" fill="#e8e8e8"/>
<rect x="548.4000000000001" y="807.4" width="4.8" height="2" rx="1" fill="#aaa" stroke="#1a1a1a" stroke-width="0.9"/>
<circle cx="550.8000000000001" cy="817.6" r="3.2" fill="#9a9a9a" stroke="#1a1a1a" stroke-width="2.1"/>
<rect x="549.7" y="815.3000000000001" width="2.2" height="4.6" rx="1" fill="#e8e8e8"/>
<rect x="548.4000000000001" y="824.2" width="4.8" height="2" rx="1" fill="#aaa" stroke="#1a1a1a" stroke-width="0.9"/>
<text transform="translate(530.9000000000001,698.0) scale(0.88,1)" font-size="6.9" font-weight="bold" stroke="#000" stroke-width="0.25" text-anchor="middle" font-family="Liberation Sans,Noto Sans CJK SC,sans-serif">13</text>
<text transform="translate(540.9000000000001,697.4) scale(0.88,1)" font-size="6.9" font-weight="bold" stroke="#000" stroke-width="0.25" text-anchor="middle" font-family="Liberation Sans,Noto Sans CJK SC,sans-serif">14</text>
<text transform="translate(551.0000000000001,697.4) scale(0.88,1)" font-size="6.9" font-weight="bold" stroke="#000" stroke-width="0.25" text-anchor="middle" font-family="Liberation Sans,Noto Sans CJK SC,sans-serif">15</text>
<text transform="translate(530.9000000000001,707.2) scale(0.88,1)" font-size="6.9" font-weight="bold" stroke="#000" stroke-width="0.25" text-anchor="middle" font-family="Liberation Sans,Noto Sans CJK SC,sans-serif">10</text>
<text transform="translate(540.9000000000001,707.2) scale(0.88,1)" font-size="6.9" font-weight="bold" stroke="#000" stroke-width="0.25" text-anchor="middle" font-family="Liberation Sans,Noto Sans CJK SC,sans-serif">11</text>
<text transform="translate(551.0000000000001,707.2) scale(0.88,1)" font-size="6.9" font-weight="bold" stroke="#000" stroke-width="0.25" text-anchor="middle" font-family="Liberation Sans,Noto Sans CJK SC,sans-serif">12</text>
<text transform="translate(530.9000000000001,716.3) scale(0.88,1)" font-size="6.9" font-weight="bold" stroke="#000" stroke-width="0.25" text-anchor="middle" font-family="Liberation Sans,Noto Sans CJK SC,sans-serif">7</text>
<text transform="translate(540.9000000000001,716.3) scale(0.88,1)" font-size="6.9" font-weight="bold" stroke="#000" stroke-width="0.25" text-anchor="middle" font-family="Liberation Sans,Noto Sans CJK SC,sans-serif">8</text>
<text transform="translate(551.0000000000001,716.3) scale(0.88,1)" font-size="6.9" font-weight="bold" stroke="#000" stroke-width="0.25" text-anchor="middle" font-family="Liberation Sans,Noto Sans CJK SC,sans-serif">9</text>
<text transform="translate(530.9000000000001,780.1) scale(0.88,1)" font-size="6.9" font-weight="bold" stroke="#000" stroke-width="0.25" text-anchor="middle" font-family="Liberation Sans,Noto Sans CJK SC,sans-serif">1</text>
<text transform="translate(540.9000000000001,780.1) scale(0.88,1)" font-size="6.9" font-weight="bold" stroke="#000" stroke-width="0.25" text-anchor="middle" font-family="Liberation Sans,Noto Sans CJK SC,sans-serif">2</text>
<text transform="translate(551.0000000000001,780.1) scale(0.88,1)" font-size="6.9" font-weight="bold" stroke="#000" stroke-width="0.25" text-anchor="middle" font-family="Liberation Sans,Noto Sans CJK SC,sans-serif">3</text>
<text transform="translate(530.9000000000001,789.9) scale(0.88,1)" font-size="6.9" font-weight="bold" stroke="#000" stroke-width="0.25" text-anchor="middle" font-family="Liberation Sans,Noto Sans CJK SC,sans-serif">4</text>
<text transform="translate(540.9000000000001,789.9) scale(0.88,1)" font-size="6.9" font-weight="bold" stroke="#000" stroke-width="0.25" text-anchor="middle" font-family="Liberation Sans,Noto Sans CJK SC,sans-serif">5</text>
<text transform="translate(551.0000000000001,788.9) scale(0.88,1)" font-size="6.9" font-weight="bold" stroke="#000" stroke-width="0.25" text-anchor="middle" font-family="Liberation Sans,Noto Sans CJK SC,sans-serif">6</text>
<circle cx="541.1" cy="745.8" r="2.6" fill="#fff" stroke="#222" stroke-width="0.9"/>
<text transform="translate(541.3000000000001,756.3) scale(0.8,1)" font-size="5.8" font-weight="bold" text-anchor="middle" font-family="Liberation Sans,Noto Sans CJK SC,sans-serif">PWR</text>
<rect x="565.5" y="628.5" width="34.0" height="192.0" stroke="#222" stroke-width="1" fill="#fff" />
<line x1="568.5" y1="628.2" x2="568.5" y2="687.6" stroke="#222" stroke-width="1" />
<line x1="597.5" y1="628.2" x2="597.5" y2="687.6" stroke="#222" stroke-width="1" />
<line x1="565.3" y1="629.5" x2="599.8" y2="629.5" stroke="#222" stroke-width="1.2" />
<line x1="565.3" y1="643.5" x2="599.8" y2="643.5" stroke="#111" stroke-width="1.6" />
<line x1="568.1999999999999" y1="646.5" x2="597.5" y2="646.5" stroke="#222" stroke-width="1" />
<line x1="568.1999999999999" y1="664.5" x2="597.5" y2="664.5" stroke="#222" stroke-width="1" />
<line x1="565.3" y1="668.5" x2="599.8" y2="668.5" stroke="#111" stroke-width="1.8" />
<line x1="568.1999999999999" y1="670.5" x2="597.5" y2="670.5" stroke="#222" stroke-width="0.8" />
<line x1="568.1999999999999" y1="685.5" x2="597.5" y2="685.5" stroke="#222" stroke-width="1" />
<line x1="568.1999999999999" y1="687.5" x2="597.5" y2="687.5" stroke="#222" stroke-width="1" />
<line x1="597.5" y1="658.5" x2="599.8" y2="658.5" stroke="#222" stroke-width="1" />
<rect x="570.0" y="630.1" width="4.8" height="2" rx="1" fill="#aaa" stroke="#1a1a1a" stroke-width="0.9"/>
<circle cx="572.4" cy="638.5" r="3.2" fill="#9a9a9a" stroke="#1a1a1a" stroke-width="2.1"/>
<rect x="571.3" y="636.2" width="2.2" height="4.6" rx="1" fill="#e8e8e8"/>
<rect x="570.0" y="649.4" width="4.8" height="2" rx="1" fill="#aaa" stroke="#1a1a1a" stroke-width="0.9"/>
<circle cx="572.4" cy="657.9" r="3.2" fill="#9a9a9a" stroke="#1a1a1a" stroke-width="2.1"/>
<rect x="571.3" y="655.6" width="2.2" height="4.6" rx="1" fill="#e8e8e8"/>
<rect x="570.0" y="671.3" width="4.8" height="2" rx="1" fill="#aaa" stroke="#1a1a1a" stroke-width="0.9"/>
<circle cx="572.4" cy="679.3" r="3.2" fill="#9a9a9a" stroke="#1a1a1a" stroke-width="2.1"/>
<rect x="571.3" y="677.0" width="2.2" height="4.6" rx="1" fill="#e8e8e8"/>
<rect x="580.0" y="630.1" width="4.8" height="2" rx="1" fill="#aaa" stroke="#1a1a1a" stroke-width="0.9"/>
<circle cx="582.4" cy="638.5" r="3.2" fill="#9a9a9a" stroke="#1a1a1a" stroke-width="2.1"/>
<rect x="581.3" y="636.2" width="2.2" height="4.6" rx="1" fill="#e8e8e8"/>
<rect x="580.0" y="649.4" width="4.8" height="2" rx="1" fill="#aaa" stroke="#1a1a1a" stroke-width="0.9"/>
<circle cx="582.4" cy="657.9" r="3.2" fill="#9a9a9a" stroke="#1a1a1a" stroke-width="2.1"/>
<rect x="581.3" y="655.6" width="2.2" height="4.6" rx="1" fill="#e8e8e8"/>
<rect x="580.0" y="671.3" width="4.8" height="2" rx="1" fill="#aaa" stroke="#1a1a1a" stroke-width="0.9"/>
<circle cx="582.4" cy="679.3" r="3.2" fill="#9a9a9a" stroke="#1a1a1a" stroke-width="2.1"/>
<rect x="581.3" y="677.0" width="2.2" height="4.6" rx="1" fill="#e8e8e8"/>
<rect x="590.1" y="630.1" width="4.8" height="2" rx="1" fill="#aaa" stroke="#1a1a1a" stroke-width="0.9"/>
<circle cx="592.5" cy="638.5" r="3.2" fill="#9a9a9a" stroke="#1a1a1a" stroke-width="2.1"/>
<rect x="591.4" y="636.2" width="2.2" height="4.6" rx="1" fill="#e8e8e8"/>
<rect x="590.1" y="649.4" width="4.8" height="2" rx="1" fill="#aaa" stroke="#1a1a1a" stroke-width="0.9"/>
<circle cx="592.5" cy="657.9" r="3.2" fill="#9a9a9a" stroke="#1a1a1a" stroke-width="2.1"/>
<rect x="591.4" y="655.6" width="2.2" height="4.6" rx="1" fill="#e8e8e8"/>
<rect x="590.1" y="671.3" width="4.8" height="2" rx="1" fill="#aaa" stroke="#1a1a1a" stroke-width="0.9"/>
<circle cx="592.5" cy="679.3" r="3.2" fill="#9a9a9a" stroke="#1a1a1a" stroke-width="2.1"/>
<rect x="591.4" y="677.0" width="2.2" height="4.6" rx="1" fill="#e8e8e8"/>
<rect x="565.5" y="794.5" width="34.0" height="26" fill="#fff" stroke="#222" stroke-width="1"/>
<rect x="568.5" y="794.5" width="29.0" height="34.5" fill="#fff" stroke="#222" stroke-width="1"/>
<line x1="565.3" y1="794.5" x2="599.8" y2="794.5" stroke="#111" stroke-width="1.6" />
<line x1="568.1999999999999" y1="812.5" x2="597.5" y2="812.5" stroke="#111" stroke-width="1.6" />
<line x1="565.3" y1="805.5" x2="568.1999999999999" y2="805.5" stroke="#222" stroke-width="1" />
<line x1="597.5" y1="805.5" x2="599.8" y2="805.5" stroke="#222" stroke-width="1" />
<circle cx="572.4" cy="801.7" r="3.2" fill="#9a9a9a" stroke="#1a1a1a" stroke-width="2.1"/>
<rect x="571.3" y="799.4000000000001" width="2.2" height="4.6" rx="1" fill="#e8e8e8"/>
<rect x="570.0" y="807.4" width="4.8" height="2" rx="1" fill="#aaa" stroke="#1a1a1a" stroke-width="0.9"/>
<circle cx="572.4" cy="817.6" r="3.2" fill="#9a9a9a" stroke="#1a1a1a" stroke-width="2.1"/>
<rect x="571.3" y="815.3000000000001" width="2.2" height="4.6" rx="1" fill="#e8e8e8"/>
<rect x="570.0" y="824.2" width="4.8" height="2" rx="1" fill="#aaa" stroke="#1a1a1a" stroke-width="0.9"/>
<circle cx="582.4" cy="801.7" r="3.2" fill="#9a9a9a" stroke="#1a1a1a" stroke-width="2.1"/>
<rect x="581.3" y="799.4000000000001" width="2.2" height="4.6" rx="1" fill="#e8e8e8"/>
<rect x="580.0" y="807.4" width="4.8" height="2" rx="1" fill="#aaa" stroke="#1a1a1a" stroke-width="0.9"/>
<circle cx="582.4" cy="817.6" r="3.2" fill="#9a9a9a" stroke="#1a1a1a" stroke-width="2.1"/>
<rect x="581.3" y="815.3000000000001" width="2.2" height="4.6" rx="1" fill="#e8e8e8"/>
<rect x="580.0" y="824.2" width="4.8" height="2" rx="1" fill="#aaa" stroke="#1a1a1a" stroke-width="0.9"/>
<circle cx="592.5" cy="801.7" r="3.2" fill="#9a9a9a" stroke="#1a1a1a" stroke-width="2.1"/>
<rect x="591.4" y="799.4000000000001" width="2.2" height="4.6" rx="1" fill="#e8e8e8"/>
<rect x="590.1" y="807.4" width="4.8" height="2" rx="1" fill="#aaa" stroke="#1a1a1a" stroke-width="0.9"/>
<circle cx="592.5" cy="817.6" r="3.2" fill="#9a9a9a" stroke="#1a1a1a" stroke-width="2.1"/>
<rect x="591.4" y="815.3000000000001" width="2.2" height="4.6" rx="1" fill="#e8e8e8"/>
<rect x="590.1" y="824.2" width="4.8" height="2" rx="1" fill="#aaa" stroke="#1a1a1a" stroke-width="0.9"/>
<text transform="translate(572.6,698.0) scale(0.88,1)" font-size="6.9" font-weight="bold" stroke="#000" stroke-width="0.25" text-anchor="middle" font-family="Liberation Sans,Noto Sans CJK SC,sans-serif">13</text>
<text transform="translate(582.6,697.4) scale(0.88,1)" font-size="6.9" font-weight="bold" stroke="#000" stroke-width="0.25" text-anchor="middle" font-family="Liberation Sans,Noto Sans CJK SC,sans-serif">14</text>
<text transform="translate(592.7,697.4) scale(0.88,1)" font-size="6.9" font-weight="bold" stroke="#000" stroke-width="0.25" text-anchor="middle" font-family="Liberation Sans,Noto Sans CJK SC,sans-serif">15</text>
<text transform="translate(572.6,707.2) scale(0.88,1)" font-size="6.9" font-weight="bold" stroke="#000" stroke-width="0.25" text-anchor="middle" font-family="Liberation Sans,Noto Sans CJK SC,sans-serif">10</text>
<text transform="translate(582.6,707.2) scale(0.88,1)" font-size="6.9" font-weight="bold" stroke="#000" stroke-width="0.25" text-anchor="middle" font-family="Liberation Sans,Noto Sans CJK SC,sans-serif">11</text>
<text transform="translate(592.7,707.2) scale(0.88,1)" font-size="6.9" font-weight="bold" stroke="#000" stroke-width="0.25" text-anchor="middle" font-family="Liberation Sans,Noto Sans CJK SC,sans-serif">12</text>
<text transform="translate(572.6,716.3) scale(0.88,1)" font-size="6.9" font-weight="bold" stroke="#000" stroke-width="0.25" text-anchor="middle" font-family="Liberation Sans,Noto Sans CJK SC,sans-serif">7</text>
<text transform="translate(582.6,716.3) scale(0.88,1)" font-size="6.9" font-weight="bold" stroke="#000" stroke-width="0.25" text-anchor="middle" font-family="Liberation Sans,Noto Sans CJK SC,sans-serif">8</text>
<text transform="translate(592.7,716.3) scale(0.88,1)" font-size="6.9" font-weight="bold" stroke="#000" stroke-width="0.25" text-anchor="middle" font-family="Liberation Sans,Noto Sans CJK SC,sans-serif">9</text>
<text transform="translate(572.6,780.1) scale(0.88,1)" font-size="6.9" font-weight="bold" stroke="#000" stroke-width="0.25" text-anchor="middle" font-family="Liberation Sans,Noto Sans CJK SC,sans-serif">1</text>
<text transform="translate(582.6,780.1) scale(0.88,1)" font-size="6.9" font-weight="bold" stroke="#000" stroke-width="0.25" text-anchor="middle" font-family="Liberation Sans,Noto Sans CJK SC,sans-serif">2</text>
<text transform="translate(592.7,780.1) scale(0.88,1)" font-size="6.9" font-weight="bold" stroke="#000" stroke-width="0.25" text-anchor="middle" font-family="Liberation Sans,Noto Sans CJK SC,sans-serif">3</text>
<text transform="translate(572.6,789.9) scale(0.88,1)" font-size="6.9" font-weight="bold" stroke="#000" stroke-width="0.25" text-anchor="middle" font-family="Liberation Sans,Noto Sans CJK SC,sans-serif">4</text>
<text transform="translate(582.6,789.9) scale(0.88,1)" font-size="6.9" font-weight="bold" stroke="#000" stroke-width="0.25" text-anchor="middle" font-family="Liberation Sans,Noto Sans CJK SC,sans-serif">5</text>
<text transform="translate(592.7,788.9) scale(0.88,1)" font-size="6.9" font-weight="bold" stroke="#000" stroke-width="0.25" text-anchor="middle" font-family="Liberation Sans,Noto Sans CJK SC,sans-serif">6</text>
<circle cx="582.8" cy="745.8" r="2.6" fill="#fff" stroke="#222" stroke-width="0.9"/>
<text transform="translate(583.0,756.3) scale(0.8,1)" font-size="5.8" font-weight="bold" text-anchor="middle" font-family="Liberation Sans,Noto Sans CJK SC,sans-serif">PWR</text>
</svg>
</body></html>
